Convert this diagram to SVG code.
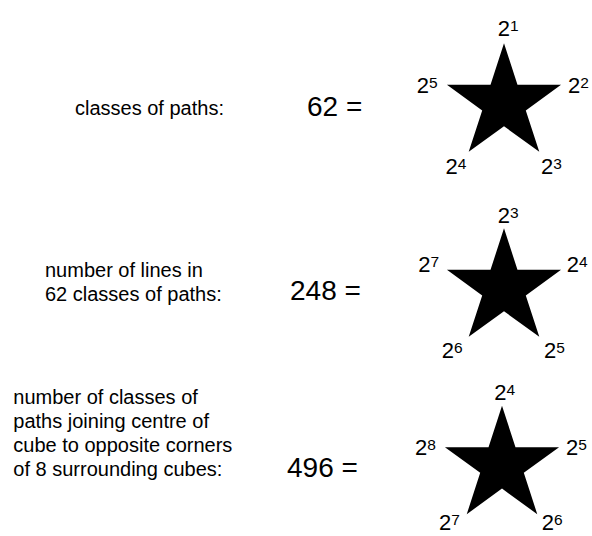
<svg xmlns="http://www.w3.org/2000/svg" xmlns:xlink="http://www.w3.org/1999/xlink" width="592" height="536" viewBox="0 0 592 536">
<style>
text{font-family:"Liberation Sans",Arial,sans-serif;fill:#000}
.desc{font-size:20px}
.val{font-size:28px}
.lbl{font-size:22px}
.sup{font-size:15.5px}
.star{fill:#000}
</style>
<defs>
<path id="star" d="M0,-60 L13.47,-18.54 L57.06,-18.54 L21.8,7.08 L35.27,48.54 L0,22.92 L-35.27,48.54 L-21.8,7.08 L-57.06,-18.54 L-13.47,-18.54 Z"/>
</defs>
<rect width="592" height="536" fill="#fff"/>
<g id="row1-label"><text class="desc" x="75" y="115">classes of paths:</text></g>
<g id="row1-value"><text class="val" x="307" y="116">62 =</text></g>
<g id="star1">
<use xlink:href="#star" href="#star" class="star" transform="translate(504,103.3)"/>
<text class="lbl" x="497.7" y="36">2<tspan class="sup" dy="-5">1</tspan></text>
<text class="lbl" x="416.7" y="92.5">2<tspan class="sup" dy="-5">5</tspan></text>
<text class="lbl" x="568" y="92.5">2<tspan class="sup" dy="-5">2</tspan></text>
<text class="lbl" x="445.5" y="174">2<tspan class="sup" dy="-5">4</tspan></text>
<text class="lbl" x="541" y="174">2<tspan class="sup" dy="-5">3</tspan></text>
</g>
<g id="row2-label"><text class="desc" x="45" y="277">number of lines in</text><text class="desc" x="45" y="301">62 classes of paths:</text></g>
<g id="row2-value"><text class="val" x="290" y="300">248 =</text></g>
<g id="star2">
<use xlink:href="#star" href="#star" class="star" transform="translate(504,288.3)"/>
<text class="lbl" x="497.7" y="223.3">2<tspan class="sup" dy="-5">3</tspan></text>
<text class="lbl" x="418.3" y="271.7">2<tspan class="sup" dy="-5">7</tspan></text>
<text class="lbl" x="566.7" y="271.7">2<tspan class="sup" dy="-5">4</tspan></text>
<text class="lbl" x="441.7" y="358.3">2<tspan class="sup" dy="-5">6</tspan></text>
<text class="lbl" x="544" y="358.3">2<tspan class="sup" dy="-5">5</tspan></text>
</g>
<g id="row3-label"><text class="desc" x="13.3" y="404">number of classes of</text><text class="desc" x="13.3" y="428">paths joining centre of</text><text class="desc" x="13.3" y="452">cube to opposite corners</text><text class="desc" x="13.3" y="476">of 8 surrounding cubes:</text></g>
<g id="row3-value"><text class="val" x="287" y="477">496 =</text></g>
<g id="star3">
<use xlink:href="#star" href="#star" class="star" transform="translate(502,465.7)"/>
<text class="lbl" x="494.3" y="400">2<tspan class="sup" dy="-5">4</tspan></text>
<text class="lbl" x="415" y="455">2<tspan class="sup" dy="-5">8</tspan></text>
<text class="lbl" x="566" y="455">2<tspan class="sup" dy="-5">5</tspan></text>
<text class="lbl" x="439" y="530">2<tspan class="sup" dy="-5">7</tspan></text>
<text class="lbl" x="541.7" y="530">2<tspan class="sup" dy="-5">6</tspan></text>
</g>
</svg>
